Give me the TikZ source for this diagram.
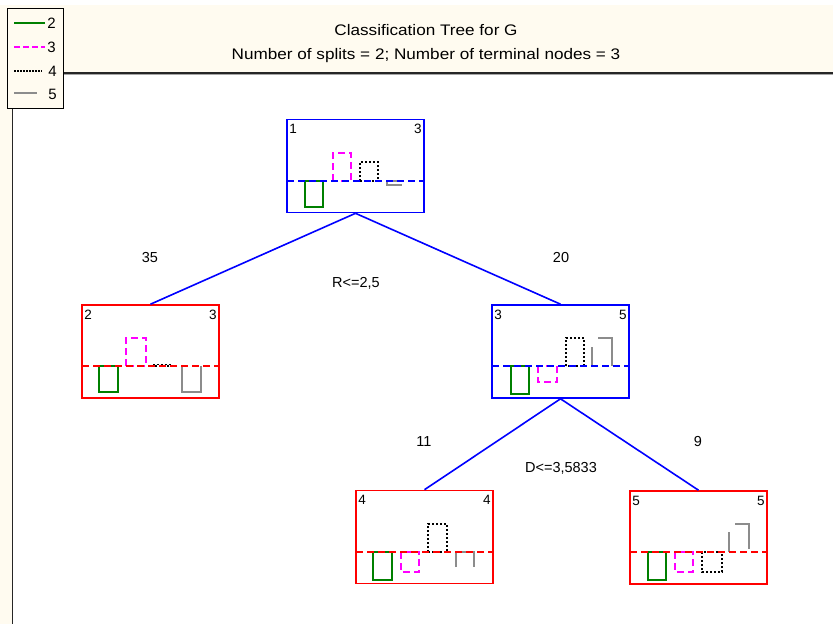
\documentclass[tikz,border=0pt]{standalone}
\usepackage{fontspec}
\setmainfont{Liberation Sans}
\newfontfamily\hdrfont[FakeStretch=1.12]{Liberation Sans}
\definecolor{cream}{RGB}{255,251,240}
\definecolor{leafgreen}{RGB}{0,128,0}
\definecolor{barmag}{RGB}{255,0,255}
\definecolor{bargray}{RGB}{140,140,140}
\tikzset{
  split/.style={draw=blue, line width=1.6pt, minimum width=137pt, minimum height=93pt, inner sep=0pt},
  leaf/.style={draw=red, line width=1.6pt, minimum width=137pt, minimum height=93pt, inner sep=0pt},
  link/.style={blue, line width=1.6pt},
  gbar/.style={leafgreen, line width=1.4pt},
  mbar/.style={barmag, line width=1.4pt, dash pattern=on 7pt off 4pt},
  kbar/.style={black, line width=1.2pt, dash pattern=on 2pt off 2pt},
  graybar/.style={bargray, line width=1.4pt},
  blueref/.style={blue, line width=1.3pt, dash pattern=on 7pt off 4pt},
  redref/.style={red, line width=1.3pt, dash pattern=on 7pt off 4pt},
  corner/.style={inner sep=0pt, font=\fontsize{13.5}{15}\selectfont},
  lbl/.style={inner sep=0pt, font=\fontsize{14.5}{17}\selectfont},
  legtxt/.style={inner sep=0pt, font=\fontsize{15}{18}\selectfont},
  hdr/.style={inner sep=0pt, font=\hdrfont\fontsize{15.3}{18}\selectfont}
}
\begin{document}
\begin{tikzpicture}[x=1pt,y=-1pt]
\useasboundingbox (0,0) rectangle (833,624);
\fill[white] (0,0) rectangle (833,624);
% header band and left strip
\fill[cream] (0,5) rectangle (833,73);
\fill[cream] (0,73) rectangle (12,624);
\draw[black!35, line width=1pt] (63,74.8) -- (833,74.8);
\draw[black!85, line width=2pt] (63,73) -- (833,73);
\draw[black!85, line width=1.8pt] (12.5,108) -- (12.5,624);
\node[hdr] (title) at (426,30) {Classification Tree for G};
\node[hdr] (subtitle) at (426,56) {Number of splits = 2; Number of terminal nodes = 3};

% legend
\draw[fill=cream, line width=0.9pt] (7,8) rectangle (63,108);
\draw[gbar] (14,23) -- (45,23);
\draw[mbar, dash pattern=on 6pt off 3pt] (14,47) -- (45,47);
\draw[kbar, dash pattern=on 1.5pt off 1.5pt] (14,71) -- (42,71);
\draw[graybar] (14,93) -- (37,93);
\node[legtxt] (k2) at (51.5,23) {2};
\node[legtxt] (k3) at (51.5,47) {3};
\node[legtxt] (k4) at (52.5,71) {4};
\node[legtxt] (k5) at (52.5,94) {5};

% tree nodes
\node[split] (n1) at (355.5,166) {};
\node[leaf]  (n2) at (150.5,351.5) {};
\node[split] (n3) at (560.5,351.5) {};
\node[leaf]  (n4) at (424.5,537) {};
\node[leaf]  (n5) at (698.5,537.5) {};

% node numbers and predicted classes
\foreach \n/\a/\b in {n1/1/3, n2/2/3, n3/3/5, n4/4/4, n5/5/5}{
  \node[corner, anchor=base west] (\n id) at ([xshift=3pt, yshift=-15pt]\n.north west) {\a};
  \node[corner, anchor=base east] (\n cl) at ([xshift=-3pt, yshift=-15pt]\n.north east) {\b};
}

% connectors
\draw[link] (n1.south) -- (n2.north);
\draw[link] (n1.south) -- (n3.north);
\draw[link] (n3.south) -- (n4.north);
\draw[link] (n3.south) -- (n5.north);

% connector labels
\node[lbl] (c35) at (150,258) {35};
\node[lbl] (c20) at (561,258) {20};
\node[lbl] (s1) at (356,283) {R<=2,5};
\node[lbl] (c11) at (424,442) {11};
\node[lbl] (c9) at (698,442) {9};
\node[lbl] (s2) at (561,468) {D<=3,5833};

% class bars, node 1
\draw[gbar] (305,181) rectangle (323,207);
\draw[mbar] (333,181) rectangle (351,153);
\draw[kbar] (360,181) rectangle (378,162);
\draw[graybar] (402,181) -- (387,181) -- (387,185) -- (402,185);
\draw[blueref] (287,181) -- (424,181);

% class bars, node 2
\draw[gbar] (99,366) rectangle (118,392);
\draw[mbar] (126,366) rectangle (146,338);
\draw[kbar] (154,366) rectangle (172,364.5);
\draw[graybar] (182,366) -- (182,392) -- (201,392) -- (201,366);
\draw[redref] (82,366) -- (219,366);

% class bars, node 3
\draw[gbar] (511,366) rectangle (529,394);
\draw[mbar] (538,366) rectangle (557,382);
\draw[kbar] (566,366) rectangle (584,338);
\draw[graybar] (592,366) -- (592,347) (598,338) -- (612,338) -- (612,366);
\draw[blueref] (492,366) -- (629,366);

% class bars, node 4
\draw[gbar] (373,552) rectangle (392,580);
\draw[mbar] (401,552) rectangle (419,572);
\draw[kbar] (428,552) rectangle (447,524);
\draw[graybar] (456,567) -- (456,552) -- (474,552) -- (474,567);
\draw[redref] (356,552) -- (493,552);

% class bars, node 5
\draw[gbar] (648,552) rectangle (666,580);
\draw[mbar] (675,552) rectangle (693,572);
\draw[kbar] (702,552) rectangle (722,572);
\draw[graybar] (729,552) -- (729,532) (735,524) -- (749,524) -- (749,549);
\draw[redref] (630,552) -- (767,552);
\end{tikzpicture}
\end{document}
